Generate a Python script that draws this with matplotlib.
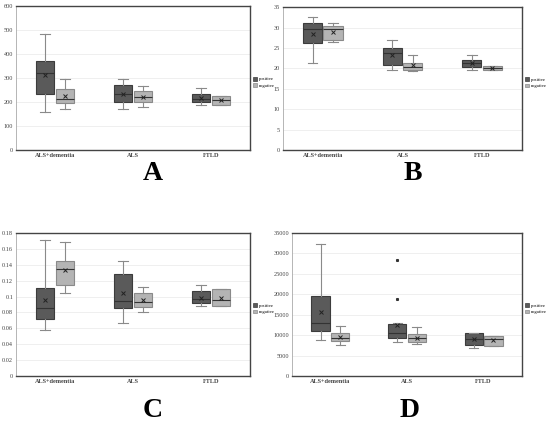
import matplotlib
matplotlib.use('Agg')
import matplotlib.pyplot as plt
from matplotlib.patches import Patch

plt.rcParams['font.family'] = ['Liberation Serif', 'DejaVu Serif']

categories = ['ALS+dementia', 'ALS', 'FTLD']

# box stats per panel: [whislo, q1, med, mean, q3, whishi] for each category
a_pos = [[158, 235, 321, 311, 372, 482], [170, 199, 234, 234, 271, 296], [188, 199, 214, 218, 234, 257]]
a_neg = [[169, 198, 213, 225, 253, 297], [178, 200, 221, 223, 246, 265], [188, 188, 210, 210, 225, 225]]
b_pos = [[21.3, 26.1, 29.7, 28.5, 31.2, 32.6], [19.6, 20.9, 23.7, 23.2, 25.0, 27.0], [19.5, 20.3, 21.3, 21.2, 22.0, 23.4]]
b_neg = [[26.5, 26.9, 29.7, 28.9, 30.5, 31.1], [19.4, 19.5, 20.3, 20.8, 21.2, 23.4], [19.7, 19.7, 20.2, 20.1, 20.6, 20.6]]
c_pos = [[0.058, 0.072, 0.086, 0.095, 0.111, 0.171], [0.067, 0.086, 0.094, 0.104, 0.128, 0.145], [0.088, 0.092, 0.097, 0.098, 0.107, 0.115]]
c_neg = [[0.104, 0.114, 0.135, 0.133, 0.145, 0.169], [0.081, 0.087, 0.093, 0.095, 0.104, 0.112], [0.0885, 0.0885, 0.096, 0.098, 0.110, 0.110]]
d_pos = [[8910, 11120, 13000, 15620, 19620, 32300], [8420, 9400, 10470, 12510, 12840, 12900], [6870, 7690, 9080, 9000, 10470, 10470]]
d_neg = [[7600, 8500, 9320, 9570, 10470, 12350], [7850, 8260, 9400, 9400, 10220, 11940], [7280, 7280, 9000, 8750, 9890, 9890]]
d_pos_fliers = [[], [28370, 18720], []]

panels = [
    ('A', a_pos, a_neg, None, (0, 600), [0, 100, 200, 300, 400, 500, 600], ['0', '100', '200', '300', '400', '500', '600']),
    ('B', b_pos, b_neg, None, (0, 35), [0, 5, 10, 15, 20, 25, 30, 35], ['0', '5', '10', '15', '20', '25', '30', '35']),
    ('C', c_pos, c_neg, None, (0, 0.18), [0, 0.02, 0.04, 0.06, 0.08, 0.1, 0.12, 0.14, 0.16, 0.18],
     ['0', '0.02', '0.04', '0.06', '0.08', '0.1', '0.12', '0.14', '0.16', '0.18']),
    ('D', d_pos, d_neg, d_pos_fliers, (0, 35000), [0, 5000, 10000, 15000, 20000, 25000, 30000, 35000],
     ['0', '5000', '10000', '15000', '20000', '25000', '30000', '35000']),
]

# axes rectangles in figure fraction
rects = [
    [0.029, 0.6445, 0.4255, 0.3412],
    [0.5145, 0.6445, 0.4345, 0.3385],
    [0.029, 0.109, 0.4255, 0.339],
    [0.531, 0.109, 0.418, 0.339],
]
letter_pos = [(0.278, 0.59), (0.751, 0.59), (0.278, 0.028), (0.745, 0.028)]

pos_color = '#5a5a5a'
neg_color = '#b4b4b4'


def make_stats(rows, fliers):
    stats = []
    for i, r in enumerate(rows):
        stats.append({'whislo': r[0], 'q1': r[1], 'med': r[2], 'mean': r[3], 'q3': r[4], 'whishi': r[5],
                      'fliers': fliers[i] if fliers else []})
    return stats


fig = plt.figure(figsize=(5.5, 4.22), dpi=100)

for (letter, pos, neg, fl, ylim, yticks, ylabels), rect, lp in zip(panels, rects, letter_pos):
    ax = fig.add_axes(rect)
    centers = [0.5, 1.5, 2.5]
    for rows, fliers, off, color, edge in [(pos, fl, -0.128, pos_color, '#3c3c3c'),
                                           (neg, None, 0.128, neg_color, '#8a8a8a')]:
        ax.bxp(make_stats(rows, fliers), positions=[c + off for c in centers], widths=0.24,
               showmeans=True, patch_artist=True,
               boxprops=dict(facecolor=color, edgecolor=edge, linewidth=0.8),
               medianprops=dict(color='#333333', linewidth=0.8),
               whiskerprops=dict(color='#8a8a8a', linewidth=0.8),
               capprops=dict(color='#8a8a8a', linewidth=0.8),
               meanprops=dict(marker='x', markeredgecolor='#222222', markersize=2.2, markeredgewidth=0.7),
               flierprops=dict(marker='s', markerfacecolor='#333333', markeredgecolor='#333333', markersize=1.2))
    ax.set_xlim(0, 3)
    ax.set_ylim(*ylim)
    ax.set_yticks(yticks)
    ax.set_yticklabels(ylabels)
    ax.set_xticks(centers)
    ax.set_xticklabels(categories, fontweight='bold')
    ax.tick_params(axis='both', labelsize=4.5, length=0, pad=2, colors='#444444')
    ax.yaxis.grid(True, color='#ececec', linewidth=0.6)
    ax.set_axisbelow(True)
    for side in ['top', 'right', 'bottom']:
        ax.spines[side].set_color('#444444')
        ax.spines[side].set_linewidth(1.0)
    ax.spines['left'].set_color('#aaaaaa')
    ax.spines['left'].set_linewidth(0.6)
    handles = [Patch(facecolor=pos_color, edgecolor='#3c3c3c', linewidth=0.5, label='positive'),
               Patch(facecolor=neg_color, edgecolor='#8a8a8a', linewidth=0.5, label='negative')]
    ax.legend(handles=handles, loc='center left', bbox_to_anchor=(1.0, 0.47), frameon=False,
              fontsize=3.4, handlelength=0.8, handleheight=0.8, handletextpad=0.4, labelspacing=0.4,
              borderaxespad=0.2)
    fig.text(lp[0], lp[1], letter, fontsize=20, fontweight='bold', ha='center', va='center')

fig.savefig('out.png', dpi=100)
